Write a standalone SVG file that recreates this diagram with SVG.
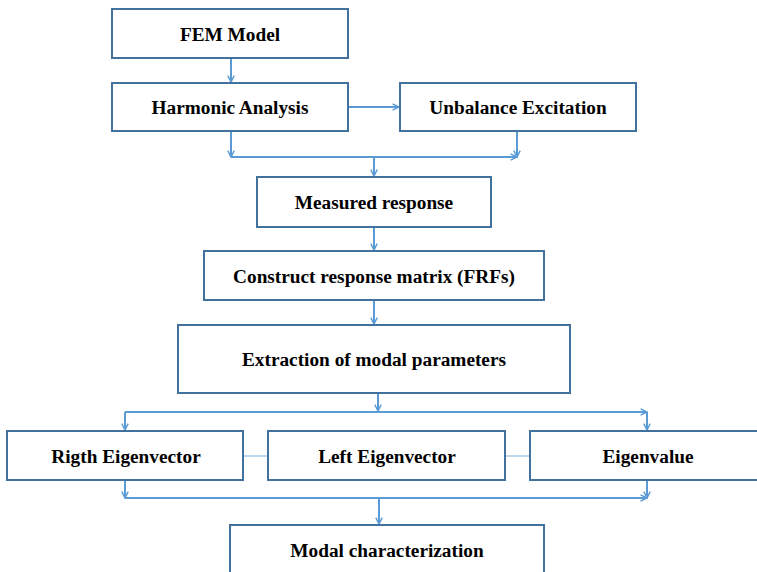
<svg xmlns="http://www.w3.org/2000/svg" width="757" height="572" viewBox="0 0 757 572">
<style>
.box{fill:#ffffff;stroke:#41719C;stroke-width:2}
.lbl{font-family:"Liberation Serif","Times New Roman",serif;font-weight:bold;font-size:19.3px;fill:#000;text-anchor:middle;dominant-baseline:central}
.c{fill:none;stroke:#5B9BD5;stroke-width:2}
.cl{fill:none;stroke:#BDD7EE;stroke-width:2}
</style>
<defs>
<marker id="a" viewBox="0 0 10 10" refX="9" refY="5" markerWidth="8" markerHeight="8" markerUnits="userSpaceOnUse" orient="auto">
<path d="M1,1 L9,5 L1,9" fill="none" stroke="#5B9BD5" stroke-width="1.8"/>
</marker>
</defs>
<rect width="757" height="572" fill="#ffffff"/>
<g id="connectors">
<line class="c" x1="231" y1="58" x2="231" y2="82" marker-end="url(#a)"/>
<line class="c" x1="348" y1="107" x2="399" y2="107" marker-end="url(#a)"/>
<line class="c" x1="231" y1="131" x2="231" y2="157" marker-end="url(#a)"/>
<line class="c" x1="517" y1="131" x2="517" y2="157" marker-end="url(#a)"/>
<line class="c" x1="231" y1="157" x2="517" y2="157" marker-end="url(#a)"/>
<line class="c" x1="374" y1="157" x2="374" y2="176" marker-end="url(#a)"/>
<line class="c" x1="374" y1="227" x2="374" y2="250" marker-end="url(#a)"/>
<line class="c" x1="374" y1="300" x2="374" y2="324" marker-end="url(#a)"/>
<line class="c" x1="378" y1="393" x2="378" y2="411" marker-end="url(#a)"/>
<line class="c" x1="125" y1="412" x2="647" y2="412" marker-end="url(#a)"/>
<line class="c" x1="125" y1="412" x2="125" y2="430" marker-end="url(#a)"/>
<line class="c" x1="647" y1="412" x2="647" y2="430" marker-end="url(#a)"/>
<line class="cl" x1="243" y1="456" x2="268" y2="456"/>
<line class="cl" x1="505" y1="456" x2="530" y2="456"/>
<line class="c" x1="125" y1="480" x2="125" y2="498" marker-end="url(#a)"/>
<line class="c" x1="647" y1="480" x2="647" y2="498" marker-end="url(#a)"/>
<line class="c" x1="125" y1="498" x2="647" y2="498" marker-end="url(#a)"/>
<line class="c" x1="379" y1="498" x2="379" y2="524" marker-end="url(#a)"/>
</g>
<g id="fem"><rect class="box" x="112" y="9" width="236" height="49"/><text class="lbl" x="230" y="34">FEM Model</text></g>
<g id="harmonic"><rect class="box" x="112" y="83" width="236" height="48"/><text class="lbl" x="230" y="107">Harmonic Analysis</text></g>
<g id="unbalance"><rect class="box" x="400" y="83" width="236" height="48"/><text class="lbl" x="518" y="107">Unbalance Excitation</text></g>
<g id="measured"><rect class="box" x="257" y="177" width="234" height="50"/><text class="lbl" x="374" y="202">Measured response</text></g>
<g id="construct"><rect class="box" x="204" y="251" width="340" height="49"/><text class="lbl" x="374" y="276">Construct response matrix (FRFs)</text></g>
<g id="extraction"><rect class="box" x="178" y="325" width="392" height="68"/><text class="lbl" x="374" y="359">Extraction of modal parameters</text></g>
<g id="right"><rect class="box" x="7" y="431" width="236" height="49"/><text class="lbl" x="126" y="456">Rigth Eigenvector</text></g>
<g id="left"><rect class="box" x="268" y="431" width="237" height="49"/><text class="lbl" x="387" y="456">Left Eigenvector</text></g>
<g id="eigenvalue"><rect class="box" x="530" y="431" width="240" height="49"/><text class="lbl" x="648" y="456">Eigenvalue</text></g>
<g id="modal"><rect class="box" x="230" y="525" width="314" height="60"/><text class="lbl" x="387" y="550">Modal characterization</text></g>
</svg>
